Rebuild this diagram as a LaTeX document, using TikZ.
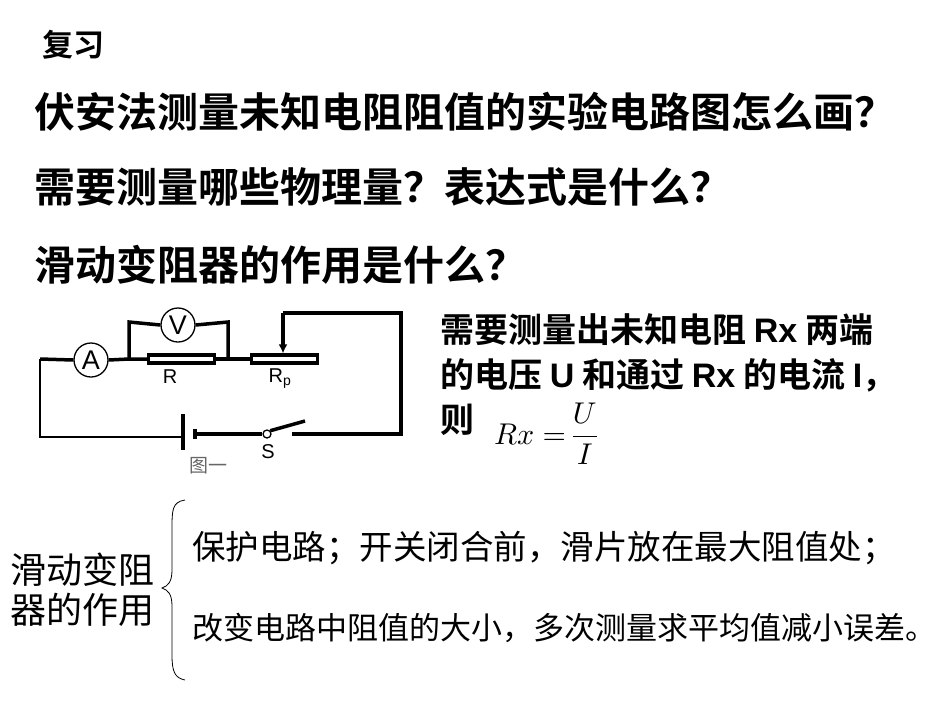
\documentclass[tikz,border=0pt]{standalone}
\usepackage{fontspec}
\usetikzlibrary{arrows.meta}
\newfontfamily\cjk{Noto Sans CJK SC}
\newfontfamily\cjkb{Noto Sans CJK SC Bold}
\setsansfont{Liberation Sans}
\begin{document}
\begin{tikzpicture}[x=1pt,y=-1pt,
  wire/.style={line width=3.5pt},
  thin/.style={line width=2pt},
  meter/.style={circle,draw,line width=1.3pt,minimum size=34pt,inner sep=0pt,font=\sffamily\fontsize{27}{27}\selectfont},
  res/.style={draw,line width=3.2pt,minimum width=66pt,minimum height=8pt,inner sep=0pt},
  lab/.style={font=\sffamily\fontsize{20}{20}\selectfont},
  big/.style={anchor=west,inner sep=0pt,font=\cjkb\fontsize{41}{41}\selectfont},
  mid/.style={anchor=west,inner sep=0pt,font=\cjkb\fontsize{34}{34}\selectfont}]
\useasboundingbox (0,0) rectangle (950,713);
\node[anchor=west,inner sep=0pt,font=\cjkb\fontsize{31}{31}\selectfont] (t0) at (42,45) {复习};
\node[big] (t1) at (34,112) {伏安法测量未知电阻阻值的实验电路图怎么画？};
\node[big] (t2) at (34,187) {需要测量哪些物理量？表达式是什么？};
\node[big] (t3) at (34,265) {滑动变阻器的作用是什么？};
% circuit
\node[meter] (A) at (91,360) {A};
\node[meter] (V) at (178,325) {V};
\node[res] (R) at (181.5,359) {};
\node[res] (Rp) at (284.5,359) {};
\node[lab] (Rl) at (170,377) {R};
\node[lab] (Rpl) at (280,379) {R\textsubscript{p}};
\coordinate (TL) at (40,359);
\coordinate (BL) at (40,437);
\coordinate (J1) at (129,359);
\coordinate (J2) at (228,359);
\coordinate (TR) at (401,313);
\coordinate (BR) at (401,434);
\coordinate (AT) at (283,313);
\draw[thin] (TL) -- (BL) -- (183,437);
\draw[wire] (TL) -- (A.west);
\draw[wire] (A.east) -- (J1) -- (R.west);
\draw[wire] (J1) -- (129,322) -- (V.west);
\draw[wire] (V.east) -- (228,322) -- (J2);
\draw[wire] (R.east) -- (J2) -- (Rp.west);
\draw[wire] (AT) -- (TR) -- (BR) -- (292,434);
\draw[wire,-{Latex[length=9pt,width=9pt]}] (AT) -- (Rp.north -| AT);
\draw[line width=3.5pt] (183,414) -- (183,450);
\draw[line width=4pt] (195,429) -- (195,439);
\node[circle,draw,line width=1.3pt,minimum size=8pt,inner sep=0pt,fill=white] (S) at (267,434) {};
\draw[wire] (195,434) -- (S.west);
\draw[wire] (S.north east) -- (305,421);
\node[lab] (Sl) at (268,452) {S};
\node[font=\cjk\fontsize{19}{19}\selectfont,text=black!60] (fig) at (208,466) {图一};
% right text
\node[mid] (r1) at (440,330) {需要测量出未知电阻 {\sffamily\bfseries Rx} 两端};
\node[mid] (r2) at (440,375) {的电压 {\sffamily\bfseries U} 和通过 {\sffamily\bfseries Rx} 的电流 {\sffamily\bfseries I}，};
\node[mid] (r3) at (440,420) {则};
\node[anchor=west,inner sep=0pt] (f) at (494,434) {\scalebox{3}{$Rx=\!\displaystyle\frac{U}{I}$}};
% brace
\draw[line width=0.8pt] (185,500) .. controls (172,502) and (172,510) .. (172,530) -- (172,570) .. controls (172,582) and (168,586) .. (162,588) .. controls (168,590) and (172,594) .. (172,606) -- (172,655) .. controls (172,672) and (175,678) .. (185,680);
\node[anchor=west,inner sep=0pt,font=\cjk\fontsize{36}{36}\selectfont] (b1) at (10,570) {滑动变阻};
\node[anchor=west,inner sep=0pt,font=\cjk\fontsize{36}{36}\selectfont] (b2) at (10,610) {器的作用};
\node[anchor=west,inner sep=0pt,font=\cjk\fontsize{33.5}{33.5}\selectfont] (i1) at (192,548) {保护电路；开关闭合前，滑片放在最大阻值处；};
\node[anchor=west,inner sep=0pt,font=\cjk\fontsize{31}{31}\selectfont] (i2) at (192,628) {改变电路中阻值的大小，多次测量求平均值减小误差。};
\end{tikzpicture}
\end{document}
